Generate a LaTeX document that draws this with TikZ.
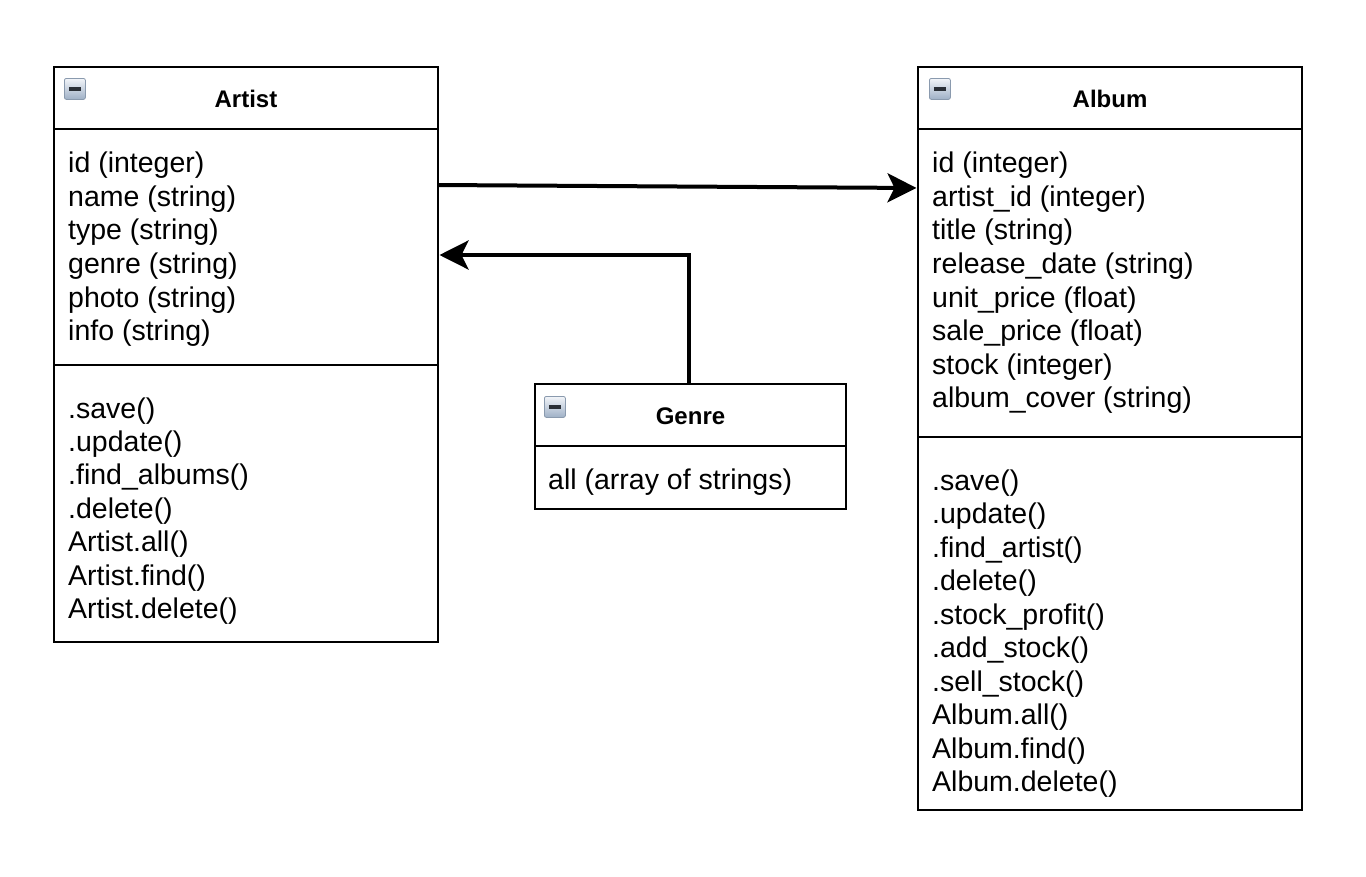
\documentclass[tikz,border=0pt]{standalone}
\usepackage{fontspec}
\setmainfont{Liberation Sans}
\usetikzlibrary{arrows.meta}
\definecolor{icontop}{HTML}{F2F5F9}
\definecolor{iconbot}{HTML}{9EB0C6}
\definecolor{iconborder}{HTML}{8A9AAE}
\definecolor{iconbar}{HTML}{2A2F36}
\begin{document}
\begin{tikzpicture}[x=1pt,y=-1pt,
  box/.style={draw,line width=2.2pt,anchor=north west,inner sep=0pt,outer sep=0pt},
  sep/.style={line width=2.2pt},
  title/.style={font=\fontsize{24}{28}\selectfont\bfseries,inner sep=0pt},
  item/.style={font=\fontsize{28.5}{34}\selectfont,anchor=mid west,inner sep=0pt,yshift=-8pt},
  conn/.style={line width=4pt,-{Stealth[length=29pt,width=29pt,inset=7pt]},shorten >=1.5pt},
  icon/.style={draw=iconborder,line width=0.8pt,rounded corners=2pt,top color=icontop,bottom color=iconbot,
    minimum size=21pt,inner sep=0pt,anchor=north west,
    path picture={\draw[line width=3.2pt,iconbar] ([xshift=4.5pt]path picture bounding box.west) -- ([xshift=-4.5pt]path picture bounding box.east);}},
]
\useasboundingbox[fill=white] (0,0) rectangle (1366,876);

% Artist
\node[box,minimum width=384pt,minimum height=575pt] (artist) at (54,67) {};
\draw[sep] (artist.west |- 0,129) -- (artist.east |- 0,129);
\draw[sep] (artist.west |- 0,365) -- (artist.east |- 0,365);
\node[icon] (artisticon) at (64,78) {};
\node[title] (artisttitle) at (246,99) {Artist};
\node[item] (a1) at (68,162) {id (integer)};
\node[item] (a2) at (68,196) {name (string)};
\node[item] (a3) at (68,229) {type (string)};
\node[item] (a4) at (68,263) {genre (string)};
\node[item] (a5) at (68,297) {photo (string)};
\node[item] (a6) at (68,330) {info (string)};
\node[item] (am1) at (68,408) {.save()};
\node[item] (am2) at (68,441) {.update()};
\node[item] (am3) at (68,474) {.find\_albums()};
\node[item] (am4) at (68,508) {.delete()};
\node[item] (am5) at (68,541) {Artist.all()};
\node[item] (am6) at (68,575) {Artist.find()};
\node[item] (am7) at (68,608) {Artist.delete()};

% Album
\node[box,minimum width=384pt,minimum height=743pt] (album) at (918,67) {};
\draw[sep] (album.west |- 0,129) -- (album.east |- 0,129);
\draw[sep] (album.west |- 0,437) -- (album.east |- 0,437);
\node[icon] (albumicon) at (929,78) {};
\node[title] (albumtitle) at (1110,99) {Album};
\node[item] (b1) at (932,162) {id (integer)};
\node[item] (b2) at (932,196) {artist\_id (integer)};
\node[item] (b3) at (932,229) {title (string)};
\node[item] (b4) at (932,263) {release\_date (string)};
\node[item] (b5) at (932,297) {unit\_price (float)};
\node[item] (b6) at (932,330) {sale\_price (float)};
\node[item] (b7) at (932,364) {stock (integer)};
\node[item] (b8) at (932,397) {album\_cover (string)};
\node[item] (bm1) at (932,480) {.save()};
\node[item] (bm2) at (932,513) {.update()};
\node[item] (bm3) at (932,547) {.find\_artist()};
\node[item] (bm4) at (932,580) {.delete()};
\node[item] (bm5) at (932,614) {.stock\_profit()};
\node[item] (bm6) at (932,647) {.add\_stock()};
\node[item] (bm7) at (932,681) {.sell\_stock()};
\node[item] (bm8) at (932,714) {Album.all()};
\node[item] (bm9) at (932,748) {Album.find()};
\node[item] (bm10) at (932,781) {Album.delete()};

% Genre
\node[box,minimum width=311pt,minimum height=125pt] (genre) at (535,384) {};
\draw[sep] (genre.west |- 0,446) -- (genre.east |- 0,446);
\node[icon] (genreicon) at (544,396) {};
\node[title] (genretitle) at (690.5,416) {Genre};
\node[item] (g1) at (548,479) {all (array of strings)};

% Connectors
\coordinate (artistout) at (artist.east |- 0,185);
\coordinate (albumin) at (album.west |- 0,188);
\draw[conn] (artistout) -- (albumin);
\coordinate (genreout) at (689,384);
\coordinate (artistin) at (artist.east |- 0,255);
\draw[conn] (genreout) |- (artistin);
\end{tikzpicture}
\end{document}
